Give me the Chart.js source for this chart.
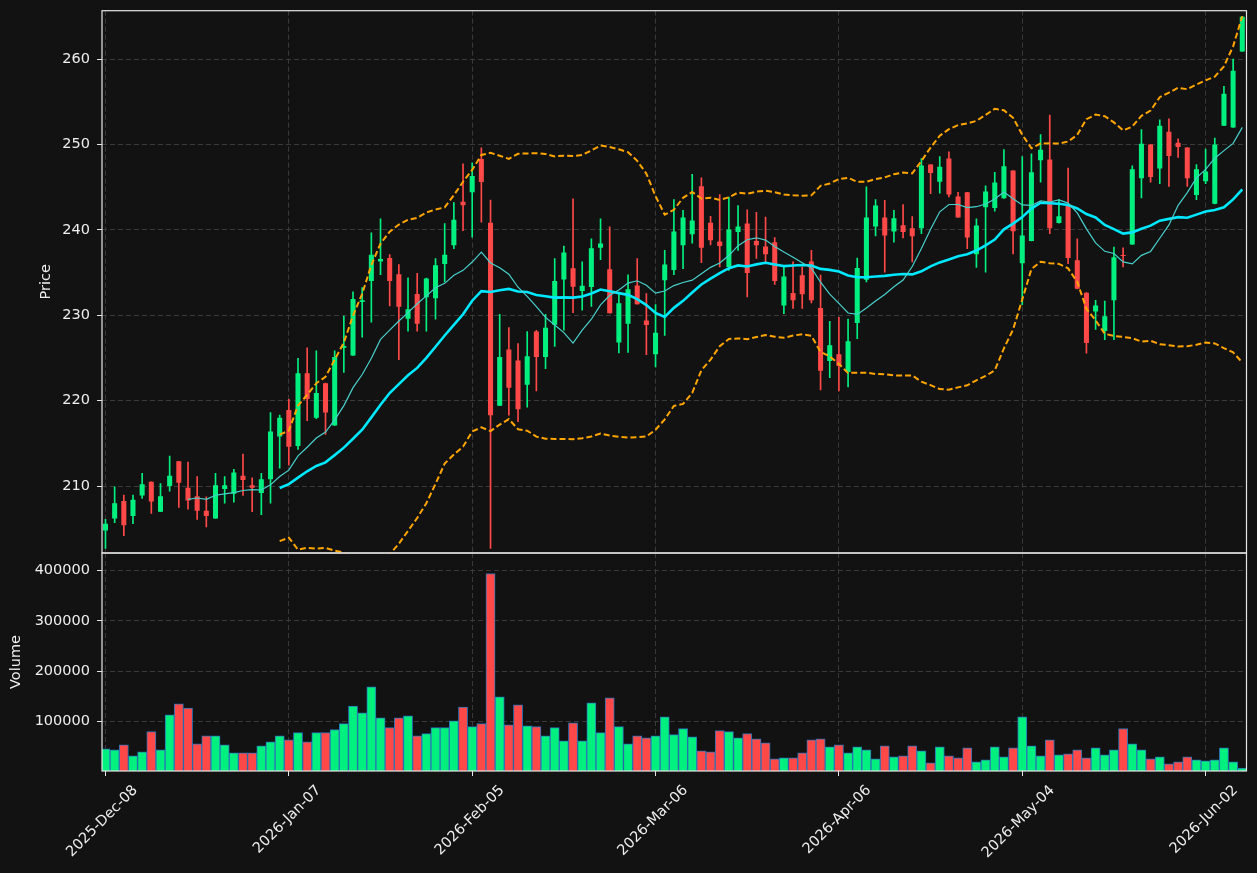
<!DOCTYPE html>
<html>
<head>
<meta charset="utf-8">
<script src="https://cdn.jsdelivr.net/npm/chart.js@4.4.0/dist/chart.umd.min.js"></script>
<style>
html, body { margin: 0; padding: 0; background: #121212; overflow: hidden; }
#wrap { position: relative; width: 1257px; height: 873px; overflow: hidden; }
#wrap canvas { position: absolute; left: 0; top: 0; }
#wrap #price { top: -5px; }
</style>
</head>
<body>
<div id="wrap">
<canvas id="vol" width="1257" height="873"></canvas>
<canvas id="price" width="1257" height="873"></canvas>
</div>
<script>
// daily bars, one per trading day
const opens = [204.8,206.2,208.25,206.5,208.9,210.5,207.0,210.0,212.9,209.8,
	208.8,207.1,206.2,209.65,209.1,211.2,210.1,209.2,210.8,215.8,
	218.9,214.7,223.2,218.0,222.05,217.1,226.2,225.3,231.55,234.0,
	236.3,236.7,234.8,229.6,232.5,232.1,232.0,236.0,238.2,243.3,
	244.4,248.3,240.85,219.4,226.0,224.7,221.85,228.1,225.1,228.9,
	234.2,235.5,232.85,233.3,237.9,235.4,226.8,229.0,233.5,229.4,
	225.45,234.1,235.3,238.2,239.5,245.1,240.85,238.65,235.65,239.75,
	240.75,238.7,238.05,238.55,231.15,232.6,234.7,236.3,230.85,224.65,
	225.45,223.35,229.1,234.15,240.4,241.45,239.8,240.55,240.2,240.2,
	247.65,245.65,248.35,243.9,244.4,237.15,242.65,242.55,243.7,246.95,
	236.1,238.7,248.15,248.25,240.8,242.85,236.45,232.65,230.45,228.15,
	231.75,237.0,238.3,246.05,250.0,247.2,251.5,250.2,249.65,244.1,
	245.7,243.05,252.2,252.0,260.9]
const highs = [206.1,209.9,208.95,208.95,211.5,210.5,210.3,213.5,212.9,212.8,
	211.1,208.75,211.5,211.1,211.95,213.75,210.95,211.5,218.6,218.3,
	220.15,224.95,226.2,225.85,222.05,225.85,229.9,232.75,233.25,239.65,
	241.3,237.1,235.95,234.4,234.9,234.35,236.65,240.75,243.2,247.75,
	247.85,249.6,243.5,230.1,228.55,226.7,228.1,228.25,230.1,236.65,
	238.1,243.65,236.25,238.95,241.3,240.35,232.55,234.75,236.65,232.55,
	231.25,237.6,243.55,242.3,246.5,246.1,241.6,244.15,243.85,242.85,
	242.35,242.05,241.5,239.1,235.65,236.25,235.65,237.6,234.7,229.3,
	229.75,229.55,236.7,245.05,243.55,243.45,242.3,242.95,241.55,248.35,
	247.65,248.6,249.15,244.4,244.4,241.3,245.15,246.75,249.4,246.95,
	248.6,248.9,251.15,253.45,243.55,247.25,238.95,232.65,231.75,231.65,
	238.0,237.9,247.5,251.75,250.0,252.9,253.0,250.65,249.65,247.65,
	249.45,250.75,256.8,260.0,265.0]
const lows = [202.7,205.7,204.2,205.6,208.55,206.8,207.0,209.4,207.5,207.3,
	206.1,205.2,206.2,208.0,208.1,208.9,207.0,206.65,208.0,212.1,
	212.45,214.3,217.65,217.9,216.05,217.1,223.3,225.3,227.45,229.2,
	234.75,231.1,224.8,228.15,228.15,228.15,229.55,233.9,237.8,239.9,
	239.15,240.9,202.7,219.4,218.3,217.55,219.25,221.15,223.75,226.35,
	228.25,230.3,230.6,231.05,236.5,230.25,225.6,225.65,231.3,225.4,
	223.95,227.65,234.75,235.45,238.45,236.15,238.25,235.65,235.25,237.6,
	232.15,236.65,236.1,233.6,230.2,230.8,230.8,231.45,221.25,222.7,
	221.15,221.6,227.25,233.9,239.3,235.05,238.55,239.05,236.25,239.55,
	244.25,244.3,243.85,241.45,237.8,235.6,235.05,242.2,243.7,237.2,
	231.25,238.7,245.6,239.55,240.8,236.05,233.1,225.55,228.35,227.15,
	227.15,235.65,238.3,243.75,245.6,245.4,245.1,248.5,245.1,243.55,
	245.4,243.05,252.2,252.0,260.9]
const closes = [205.6,208.0,205.4,208.4,210.2,208.2,208.8,211.2,210.4,208.3,
	207.1,206.5,210.1,210.1,211.6,210.7,209.8,210.8,216.4,218.0,
	214.6,223.2,220.2,220.9,218.6,225.1,226.4,231.9,231.75,237.1,
	236.6,234.0,231.0,230.7,229.0,234.3,235.85,237.1,241.2,242.9,
	246.3,245.6,218.3,225.1,221.5,219.0,225.2,225.1,228.55,234.0,
	237.35,233.35,233.45,237.85,238.4,230.25,231.4,233.05,231.3,228.85,
	227.95,235.95,239.8,241.45,241.1,237.9,238.8,238.1,240.05,240.4,
	234.95,238.2,237.15,234.0,234.55,231.75,232.45,231.75,223.5,226.5,
	224.05,226.95,235.55,241.45,242.85,239.35,241.35,239.75,239.25,247.55,
	246.65,247.4,244.15,241.45,239.1,240.5,244.5,245.55,247.45,239.85,
	239.35,246.75,249.4,240.2,241.6,236.7,233.1,226.75,231.15,229.9,
	236.8,236.95,247.1,250.1,246.2,252.2,248.65,249.7,246.05,247.1,
	246.85,250.0,255.95,258.65,264.95]
const volumes = [46000,44000,54000,32000,40000,80000,44000,113500,135000,127000,
	56000,72000,72000,54000,38000,38000,38000,52000,60000,72000,
	64000,78000,60000,78000,78000,84000,96000,131000,117500,169000,
	107500,88000,107500,111500,72000,76000,88000,88000,101500,129000,
	90000,96000,393500,149000,93500,133000,91500,90000,72000,88000,
	62000,97500,62000,137000,78000,147000,90000,56000,72000,68000,
	72000,109500,74000,86000,70000,42000,40000,82000,80000,68000,
	76000,66000,58000,26000,28000,28000,38000,64000,66000,50000,
	54000,38000,50000,44000,26000,52000,30000,32000,52000,42000,
	18000,50000,32000,28000,48000,20000,24000,50000,30000,48000,
	109500,52000,32000,64000,34000,36000,44000,28000,48000,34000,
	44000,86000,56000,44000,26000,30000,16000,20000,30000,24000,
	22000,24000,48000,20000,8000]
const tickPos = [0, 20, 40, 60, 80, 100, 120]
const tickLabels = ["2025-Dec-08","2026-Jan-07","2026-Feb-05","2026-Mar-06","2026-Apr-06","2026-May-04","2026-Jun-02"]
const priceTicks = [210, 220, 230, 240, 250, 260]
const volTicks = [100000, 200000, 300000, 400000]

const UP = '#00f080'
const DOWN = '#ff4848'
const TXT = '#eeeeee'
const GRID = '#3a3a3a'
const FONT = { family: 'DejaVu Sans', size: 14.5 }
const X_MIN = -0.38, X_MAX = 124.46

function sma(arr, n){
	return arr.map((v, i) => {
		if(i < n - 1) return null
		let s = 0
		for(let j = i - n + 1; j <= i; j++) s += arr[j]
		return s / n
	})
}
function band(arr, n, k){
	const mid = sma(arr, n)
	return arr.map((v, i) => {
		if(mid[i] == null) return null
		let s = 0
		for(let j = i - n + 1; j <= i; j++) s += (arr[j] - mid[i]) ** 2
		return mid[i] + k * Math.sqrt(s / (n - 1))
	})
}

const idx = closes.map((c, i) => i)
const colors = idx.map(i => closes[i] >= opens[i] ? UP : DOWN)
const ma10 = sma(closes, 10)
const ma20 = sma(closes, 20)
const bbUp = band(closes, 20, 2)
const bbLo = band(closes, 20, -2)

const frame = {
	id: 'frame',
	afterDraw(chart){
		const a = chart.chartArea, ctx = chart.ctx
		ctx.save()
		ctx.strokeStyle = '#e6e6e6'
		ctx.lineWidth = 1.2
		ctx.strokeRect(a.left, a.top, a.right - a.left, a.bottom - a.top)
		ctx.restore()
	}
}

function xScale(showLabels){
	return {
		type: 'linear', min: X_MIN, max: X_MAX, offset: false,
		afterBuildTicks: s => { s.ticks = tickPos.map(v => ({ value: v })) },
		afterFit: s => { s.height = showLabels ? 873 - 771 : 0 },
		border: { display: false, dash: [5, 3] },
		grid: { offset: false, color: GRID, drawTicks: showLabels, tickLength: 5, tickColor: '#e6e6e6', tickBorderDash: [] },
		ticks: {
			display: showLabels, autoSkip: false, minRotation: 45, maxRotation: 45,
			color: TXT, font: FONT, padding: 6, labelOffset: 30,
			callback: v => tickLabels[tickPos.indexOf(v)]
		}
	}
}

function line(data, color, width, dash){
	return {
		type: 'line', data: idx.map(i => ({ x: i, y: data[i] })),
		borderColor: color, borderWidth: width, borderDash: dash || [],
		pointRadius: 0, fill: false, tension: 0, order: 0
	}
}

// price canvas is shifted up 5px in css, so its area runs 15..558 on the canvas
new Chart('price', {
	data: {
		datasets: [
			{
				type: 'bar', data: idx.map(i => ({ x: i, y: [lows[i], highs[i]] })),
				backgroundColor: colors, barThickness: 1, grouped: false, order: 3
			},
			{
				type: 'bar', data: idx.map(i => ({ x: i, y: [opens[i], closes[i]] })),
				backgroundColor: colors, barPercentage: 0.55, categoryPercentage: 1,
				minBarLength: 1, grouped: false, order: 2
			},
			line(ma10, '#48d1cc', 1.2),
			line(ma20, '#00e8ff', 2.6),
			line(bbUp, '#ffa500', 2, [6, 3]),
			line(bbLo, '#ffa500', 2, [6, 3])
		]
	},
	options: {
		responsive: false, animation: false, devicePixelRatio: 1,
		layout: { padding: { left: 0, right: 10.5, top: 15, bottom: 873 - 558 } },
		plugins: { legend: { display: false }, tooltip: { enabled: false } },
		scales: {
			x: xScale(false),
			y: {
				min: 202.16, max: 265.67,
				afterBuildTicks: s => { s.ticks = priceTicks.map(v => ({ value: v })) },
				afterFit: s => { s.width = 102 },
				border: { display: false, dash: [5, 3] },
				grid: { color: GRID, tickLength: 5, tickColor: '#e6e6e6', tickBorderDash: [] },
				ticks: { color: TXT, font: FONT, padding: 7 },
				title: { display: true, text: 'Price', color: TXT, font: FONT, padding: { top: 38, bottom: 0 } }
			}
		}
	},
	plugins: [frame]
})

new Chart('vol', {
	data: {
		datasets: [{
			type: 'bar', data: idx.map(i => ({ x: i, y: volumes[i] })),
			backgroundColor: colors, borderColor: '#2b74b8', borderWidth: 1,
			barPercentage: 1, categoryPercentage: 1, grouped: false
		}]
	},
	options: {
		responsive: false, animation: false, devicePixelRatio: 1,
		layout: { padding: { left: 0, right: 10.5, top: 553, bottom: 0 } },
		plugins: { legend: { display: false }, tooltip: { enabled: false } },
		scales: {
			x: xScale(true),
			y: {
				min: 2000, max: 434400,
				afterBuildTicks: s => { s.ticks = volTicks.map(v => ({ value: v })) },
				afterFit: s => { s.width = 102 },
				border: { display: false, dash: [5, 3] },
				grid: { color: GRID, tickLength: 5, tickColor: '#e6e6e6', tickBorderDash: [] },
				ticks: { color: TXT, font: FONT, padding: 7, callback: v => String(v) },
				title: { display: true, text: 'Volume', color: TXT, font: FONT, padding: { top: 8, bottom: 0 } }
			}
		}
	},
	plugins: [frame]
})
</script>
</body>
</html>
